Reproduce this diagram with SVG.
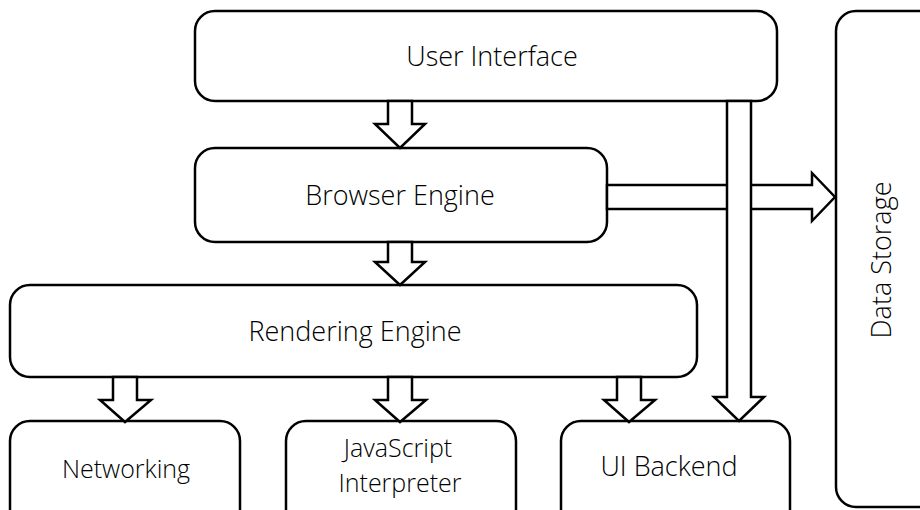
<svg xmlns="http://www.w3.org/2000/svg" width="920" height="510" viewBox="0 0 920 510">
<style>
.box{fill:#fff;stroke:#000;stroke-width:2.5}
.arr{fill:#fff;stroke:#000;stroke-width:2.5;stroke-linejoin:miter}
text{font-family:"Open Sans","Noto Sans","Liberation Sans",sans-serif;font-weight:300;fill:#000;text-anchor:middle}
.t{font-size:27px}
.s{font-size:25px}
</style>
<rect width="920" height="510" fill="#fff"/>
<g id="user-interface"><rect class="box" x="195" y="11" width="582" height="90" rx="20"/><text class="t" x="492" y="66">User Interface</text></g>
<g id="browser-engine"><rect class="box" x="195" y="148" width="412" height="94" rx="20"/><text class="t" x="400" y="205">Browser Engine</text></g>
<g id="rendering-engine"><rect class="box" x="10" y="285" width="687" height="92" rx="20"/><text class="t" x="355" y="341">Rendering Engine</text></g>
<g id="networking"><rect class="box" x="10" y="421" width="230" height="110" rx="20"/><text class="s" x="126" y="478">Networking</text></g>
<g id="javascript-interpreter"><rect class="box" x="286" y="421" width="230" height="110" rx="20"/><text class="s" x="398" y="457">JavaScript</text><text class="s" x="400" y="492">Interpreter</text></g>
<g id="ui-backend"><rect class="box" x="561" y="421" width="229" height="110" rx="20"/><text class="t" x="669" y="476">UI Backend</text></g>
<g id="data-storage"><rect class="box" x="836" y="11" width="120" height="496" rx="20"/><text class="t" transform="translate(891,260) rotate(-90)">Data Storage</text></g>
<g id="connectors">
<polygon class="arr" points="388,101 412,101 412,124 425,124 400,148 375,124 388,124"/>
<polygon class="arr" points="388,242 412,242 412,262 425,262 400,285 375,262 388,262"/>
<polygon class="arr" points="607,185 812,185 812,173 835,197 812,221 812,209 607,209"/>
<polygon class="arr" points="113,377 137,377 137,400 151,400 125,422 100,400 113,400"/>
<polygon class="arr" points="388,377 412,377 412,400 426,400 400,422 375,400 388,400"/>
<polygon class="arr" points="617,377 641,377 641,400 655,400 629,422 604,400 617,400"/>
<polygon class="arr" points="727,101 751,101 751,397 764,397 739,421 714,397 727,397"/>
</g>
</svg>
